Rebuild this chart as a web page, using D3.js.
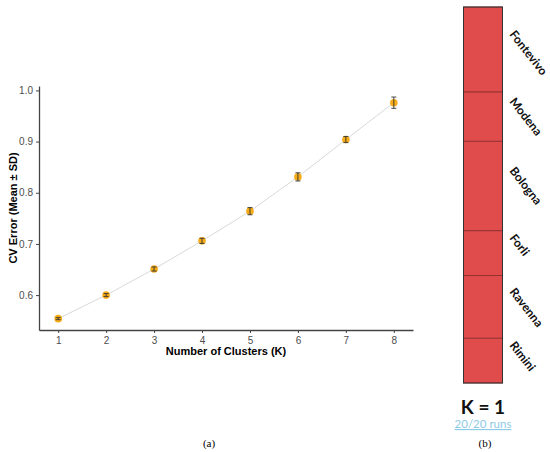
<!DOCTYPE html>
<html><head><meta charset="utf-8">
<script src="https://cdn.jsdelivr.net/npm/d3@7"></script>
<style>body{margin:0;background:#fff}svg{display:block}</style>
</head><body>
<svg id="c" width="550" height="452"></svg>
<script>
// ---- data ----
const clusters = [1, 2, 3, 4, 5, 6, 7, 8];
const cvMean = [0.554, 0.600, 0.651, 0.706, 0.764, 0.831, 0.904, 0.976];
const cvSD   = [0.002, 0.003, 0.004, 0.005, 0.007, 0.008, 0.006, 0.011];
const yTicks = [0.6, 0.7, 0.8, 0.9, 1.0];
const populations = ["Fontevivo", "Modena", "Bologna", "Forli", "Ravenna", "Rimini"];
const popSizes = [19, 11, 20, 10, 14, 10];
const kLabel = "K = 1";
const runsLabel = "20/20 runs";

const svg = d3.select("#c");

// ---- panel (a) ----
const x = d3.scaleLinear().domain([0.6, 8.4]).range([39, 413]);
const y = d3.scaleLinear().domain([0.5318, 1.0086]).range([330, 86]);

const gx = svg.append("g").attr("transform", "translate(0,330)")
  .call(d3.axisBottom(x).tickValues(clusters).tickFormat(d3.format("d")).tickSize(3).tickSizeOuter(0));
const gy = svg.append("g").attr("transform", "translate(39,0)")
  .call(d3.axisLeft(y).tickValues(yTicks).tickFormat(d3.format(".1f")).tickSize(3).tickSizeOuter(0));
[gx, gy].forEach(g => {
  g.select(".domain").attr("stroke", "#444").attr("stroke-width", 1.3);
  g.selectAll(".tick line").attr("stroke", "#444");
  g.selectAll(".tick text").attr("fill", "#4d4d4d").attr("font-family", "Liberation Sans, Arial, sans-serif").attr("font-size", 10);
});
gx.selectAll(".tick text").attr("dy", "0.8em");

const pts = clusters.map((k, i) => ({k, m: cvMean[i], s: cvSD[i]}));
svg.append("path").datum(pts)
  .attr("fill", "none").attr("stroke", "#d9d9d9").attr("stroke-width", 1)
  .attr("d", d3.line().x(d => x(d.k)).y(d => y(d.m)));
svg.selectAll("circle.pt").data(pts).join("circle")
  .attr("cx", d => x(d.k)).attr("cy", d => y(d.m)).attr("r", 3.8)
  .attr("fill", "#f5a300").attr("opacity", 0.9);
const eb = svg.append("g").attr("stroke", "#333").attr("stroke-width", 0.9);
pts.forEach(d => {
  const cx = x(d.k), t = y(d.m + d.s), b = y(d.m - d.s);
  eb.append("line").attr("x1", cx).attr("x2", cx).attr("y1", t).attr("y2", b);
  eb.append("line").attr("x1", cx - 2.5).attr("x2", cx + 2.5).attr("y1", t).attr("y2", t);
  eb.append("line").attr("x1", cx - 2.5).attr("x2", cx + 2.5).attr("y1", b).attr("y2", b);
});

svg.append("text").attr("x", 226).attr("y", 355).attr("text-anchor", "middle")
  .attr("font-family", "Liberation Sans, Arial, sans-serif").attr("font-weight", "bold")
  .attr("font-size", 11).text("Number of Clusters (K)");
svg.append("text").attr("transform", "translate(17,208) rotate(-90)").attr("text-anchor", "middle")
  .attr("font-family", "Liberation Sans, Arial, sans-serif").attr("font-weight", "bold")
  .attr("font-size", 11).text("CV Error (Mean ± SD)");
svg.append("text").attr("x", 209).attr("y", 447).attr("text-anchor", "middle")
  .attr("font-family", "Liberation Serif, serif").attr("font-size", 11).text("(a)");

// ---- panel (b) ----
const total = d3.sum(popSizes);
const cum = d3.cumsum(popSizes);
const by = d3.scaleLinear().domain([0, total]).range([7, 383]);
const segs = populations.map((p, i) => ({p, a: cum[i] - popSizes[i], b: cum[i]}));
svg.selectAll("rect.seg").data(segs).join("rect")
  .attr("x", 463.5).attr("width", 39).attr("y", d => by(d.a)).attr("height", d => by(d.b) - by(d.a))
  .attr("fill", "#e04c4c").attr("stroke", "#8a2d2d").attr("stroke-width", 0.8);
svg.append("rect").attr("x", 463.5).attr("y", 7).attr("width", 39).attr("height", 376)
  .attr("fill", "none").attr("stroke", "#333").attr("stroke-width", 1);
svg.selectAll("text.pop").data(segs).join("text")
  .attr("transform", d => `translate(509,${(by(d.a) + by(d.b)) / 2 - 15}) rotate(52)`)
  .attr("text-anchor", "start")
  .attr("font-family", "Lato, Open Sans, sans-serif").attr("font-weight", "bold")
  .attr("font-size", 12).attr("fill", "#111").text(d => d.p);

svg.append("text").attr("x", 483).attr("y", 414).attr("text-anchor", "middle")
  .attr("font-family", "Lato, Open Sans, sans-serif").attr("font-weight", "bold")
  .attr("font-size", 19).attr("fill", "#111").text(kLabel);
svg.append("text").attr("x", 483).attr("y", 428).attr("text-anchor", "middle")
  .attr("font-family", "Lato, Open Sans, sans-serif").attr("font-size", 11.5)
  .attr("fill", "#8ccbe6").attr("text-decoration", "underline").text(runsLabel);
svg.append("text").attr("x", 485).attr("y", 447).attr("text-anchor", "middle")
  .attr("font-family", "Liberation Serif, serif").attr("font-size", 11).text("(b)");
</script>
</body></html>
